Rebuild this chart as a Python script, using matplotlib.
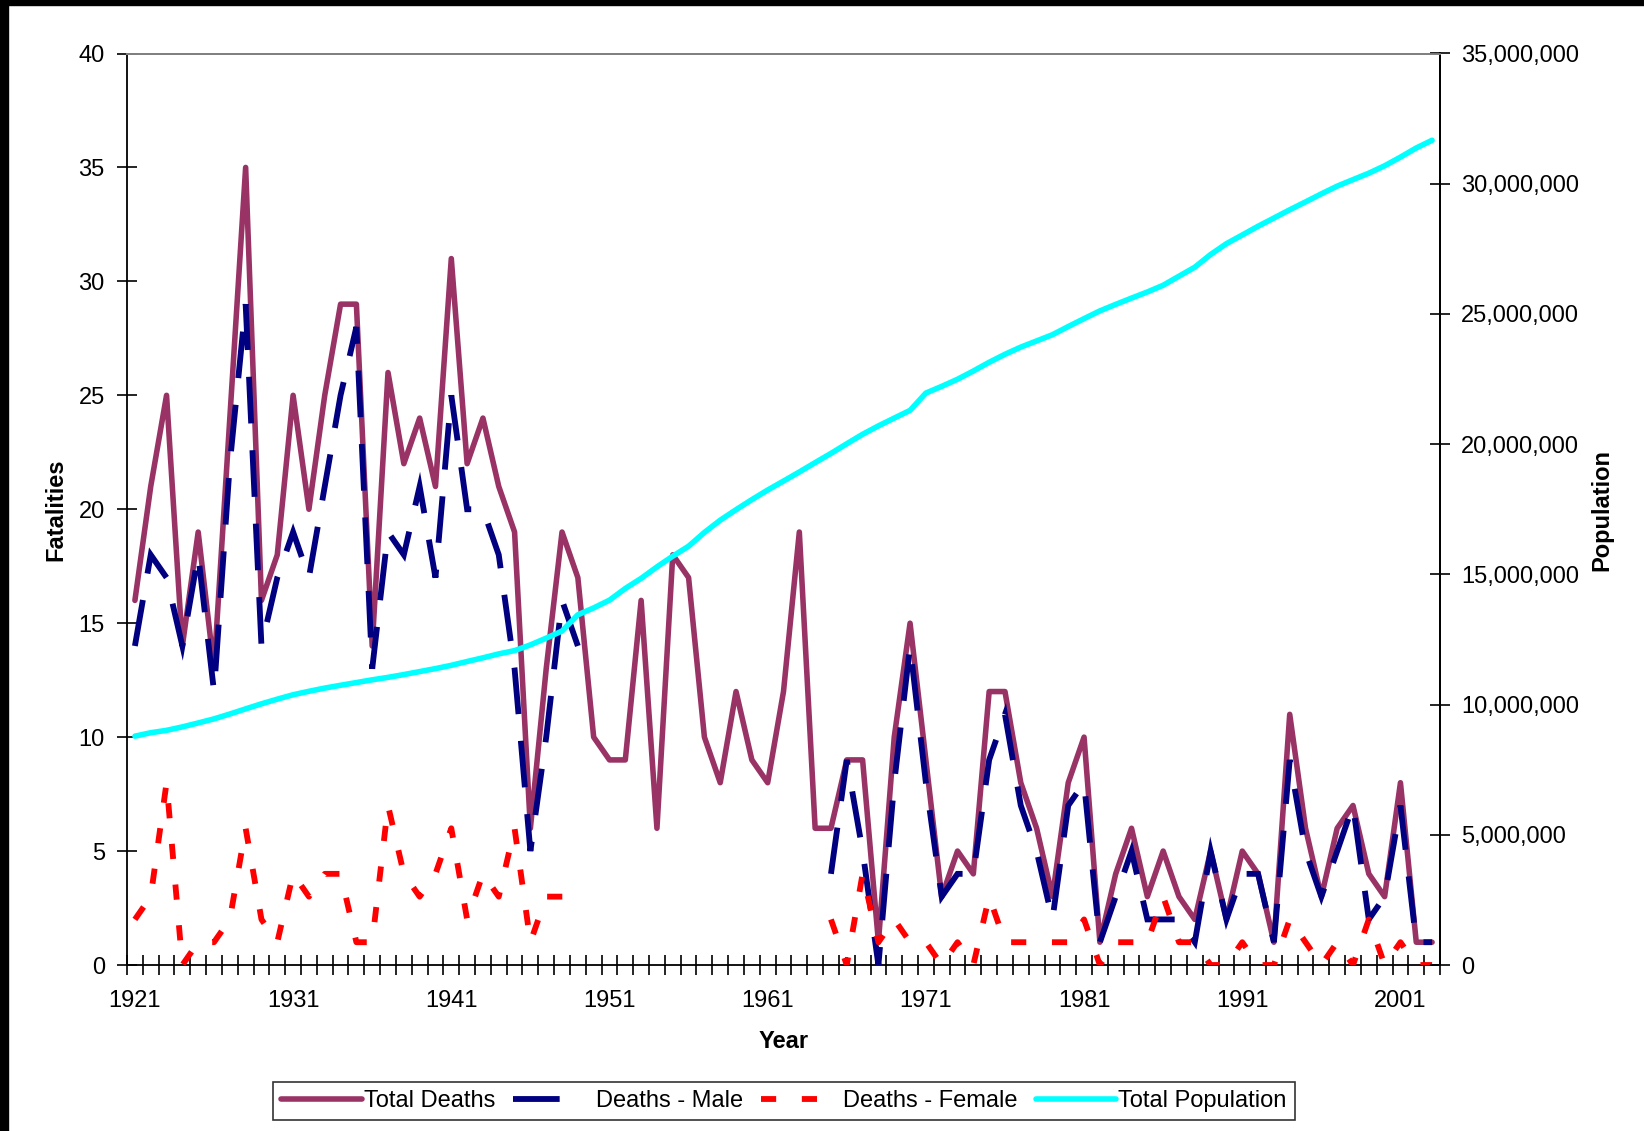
import numpy as np
import matplotlib.pyplot as plt
from matplotlib.ticker import FixedLocator, FuncFormatter
from matplotlib.lines import Line2D
from matplotlib.patches import Rectangle

plt.rcParams['font.family'] = ['Liberation Sans', 'DejaVu Sans']

years = np.arange(1921, 2004)
label_years = np.arange(1921, 2004, 10)

nan = np.nan
total_deaths = [16, 21, 25, 14, 19, 13, 24, 35, 16, 18,
                25, 20, 25, 29, 29, 14, 26, 22, 24, 21,
                31, 22, 24, 21, 19, 6, 13, 19, 17, 10,
                9, 9, 16, 6, 18, 17, 10, 8, 12, 9,
                8, 12, 19, 6, 6, 9, 9, 1, 10, 15,
                9, 3, 5, 4, 12, 12, 8, 6, 3, 8,
                10, 1, 4, 6, 3, 5, 3, 2, 5, 2,
                5, 4, 1, 11, 6, 3, 6, 7, 4, 3,
                8, 1, 1]

deaths_male = [14, 18, 17, 14, 18, 12, 22, 29, 14, 17,
               19, 17, 21, 25, 28, 13, 19, 18, 21, 17,
               25, 20, 20, 18, 13, 5, 10, 16, 14, nan,
               nan, nan, nan, nan, nan, nan, nan, nan, nan, nan,
               nan, nan, nan, nan, 4, 9, 5, 0, 8, 14,
               8, 3, 4, 4, 9, 11, 7, 5, 2, 7,
               8, 1, 3, 5, 2, 2, 2, 1, 5, 2,
               4, 4, 1, 9, 5, 3, 5, 7, 2, 3,
               7, 1, 1]

deaths_female = [2, 3, 8, 0, 1, 1, 2, 6, 2, 1,
                 4, 3, 4, 4, 1, 1, 7, 4, 3, 4,
                 6, 2, 4, 3, 6, 1, 3, 3, 3, nan,
                 nan, nan, nan, nan, nan, nan, nan, nan, nan, nan,
                 nan, nan, nan, nan, 2, 0, 4, 1, 2, 1,
                 1, 0, 1, 0, 3, 1, 1, 1, 1, 1,
                 2, 0, 1, 1, 1, 3, 1, 1, 0, 0,
                 1, 0, 0, 2, 1, 0, 1, 0, 2, 0,
                 1, 0, 0]

# population in thousands
population = [8787, 8919, 9010, 9143, 9294, 9451, 9637, 9835, 10029, 10208,
              10377, 10510, 10633, 10741, 10845, 10950, 11045, 11152, 11267, 11381,
              11507, 11654, 11795, 11946, 12072, 12292, 12551, 12823, 13447, 13712,
              14009, 14459, 14845, 15287, 15698, 16081, 16610, 17080, 17483, 17870,
              18238, 18583, 18931, 19291, 19644, 20015, 20378, 20701, 21001, 21297,
              21962, 22218, 22492, 22808, 23143, 23450, 23726, 23963, 24202, 24516,
              24820, 25117, 25367, 25608, 25843, 26101, 26449, 26795, 27282, 27698,
              28031, 28367, 28682, 28999, 29302, 29611, 29907, 30157, 30404, 30689,
              31021, 31373, 31669]

W, H = 1644, 1131
fig = plt.figure(figsize=(W / 100, H / 100), dpi=100)
fig.patch.set_facecolor('white')
fig.patches.append(Rectangle((0, 1 - 5 / H), 1, 5 / H, transform=fig.transFigure,
                             color='black', zorder=0))
fig.patches.append(Rectangle((0, 0), 8 / W, 1, transform=fig.transFigure,
                             color='black', zorder=0))

left, right, top, bottom = 127, 1440, 53.5, 965
ax = fig.add_axes([left / W, 1 - bottom / H, (right - left) / W, (bottom - top) / H])
ax2 = ax.twinx()

c_total = '#993366'
c_male = '#000080'
c_female = '#FF0000'
c_pop = '#00FFFF'
male_ls = (0, (8.0, 4.6))
female_ls = (0, (2.6, 4.4))

ax.plot(years, total_deaths, color=c_total, lw=4.0,
        solid_capstyle='round', solid_joinstyle='round', zorder=3)
ax.plot(years, deaths_male, color=c_male, lw=4.2, linestyle=male_ls,
        dash_capstyle='butt', dash_joinstyle='miter', zorder=4)
ax.plot(years, deaths_female, color=c_female, lw=4.2, linestyle=female_ls,
        dash_capstyle='butt', zorder=5)
ax2.plot(years, np.array(population) * 1000, color=c_pop, lw=4.0,
         solid_capstyle='round', solid_joinstyle='round')

ax.set_xlim(1920.5, 2003.5)
ax.set_ylim(0, 40)
ax2.set_ylim(0, 35e6)

ax.set_yticks(np.arange(0, 41, 5))
ax2.set_yticks(np.arange(0, 35e6 + 1, 5e6))
ax2.yaxis.set_major_formatter(FuncFormatter(lambda v, p: f'{int(v):,}'))

ax.xaxis.set_major_locator(FixedLocator(label_years))
ax.xaxis.set_minor_locator(FixedLocator(np.arange(1920.5, 2004, 1)))
ax.tick_params(axis='x', which='major', length=0, pad=18, labelsize=17)
ax.tick_params(axis='x', which='minor', direction='inout', length=14, width=1.2)
ax.tick_params(axis='y', direction='inout', length=14, width=1.2, pad=9, labelsize=17)
ax2.tick_params(axis='y', direction='inout', length=14, width=1.2, pad=8, labelsize=17)

for a in (ax, ax2):
    for s in a.spines.values():
        s.set_linewidth(1.3)
        s.set_color('black')
    a.spines['top'].set_color('#808080')
ax2.spines['left'].set_visible(False)
ax2.spines['bottom'].set_visible(False)

fig.text(55.6 / W, 1 - 510 / H, 'Fatalities', rotation=90, ha='center', va='center',
         fontsize=17, fontweight='bold')
fig.text(1602 / W, 1 - 510 / H, 'Population', rotation=90, ha='center', va='center',
         fontsize=17, fontweight='bold')
fig.text(784 / W, 1 - 1042 / H, 'Year', ha='center', va='center',
         fontsize=17, fontweight='bold')

# legend sample for the male series shows a single long dash
handles = [
    Line2D([], [], color=c_total, lw=4.0, solid_capstyle='round'),
    Line2D([], [], color=c_male, lw=4.2, linestyle=(0, (8.0, 20.0)), dash_capstyle='butt'),
    Line2D([], [], color=c_female, lw=4.2, linestyle=female_ls, dash_capstyle='butt'),
    Line2D([], [], color=c_pop, lw=4.0, solid_capstyle='round'),
]
labels = ['Total Deaths', 'Deaths - Male', 'Deaths - Female', 'Total Population']
leg = fig.legend(handles, labels, loc='center', bbox_to_anchor=(784 / W, 1 - 1101 / H),
                 ncol=4, frameon=True, fancybox=False, edgecolor='black', fontsize=17,
                 handlelength=3.4, handletextpad=0.1, columnspacing=0.75,
                 borderpad=0.35, borderaxespad=0)
leg.get_frame().set_linewidth(1.2)

fig.savefig('out.png', dpi=100, facecolor='white')
